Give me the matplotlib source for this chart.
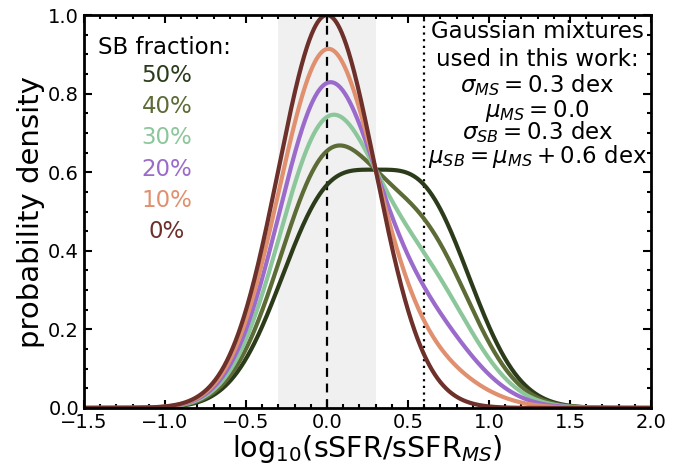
import numpy as np
import matplotlib
matplotlib.use("Agg")
import matplotlib.pyplot as plt
from matplotlib.ticker import MultipleLocator

# --- data (parameters of the Gaussian mixtures, as stated in the chart) ---
sb_fractions = [0.5, 0.4, 0.3, 0.2, 0.1, 0.0]
sb_labels = ["50%", "40%", "30%", "20%", "10%", "0%"]
colors = ["#2c3c1b", "#5d6b36", "#8cc69b", "#9b6bcb", "#e0906f", "#6d302a"]
sigma_ms = 0.3
mu_ms = 0.0
sigma_sb = 0.3
mu_sb = mu_ms + 0.6
x_range = (-1.5, 2.0)
info_lines = [
    "Gaussian mixtures",
    "used in this work:",
    r"$\sigma_{MS} = 0.3$ dex",
    r"$\mu_{MS} = 0.0$",
    r"$\sigma_{SB} = 0.3$ dex",
    r"$\mu_{SB} = \mu_{MS} + 0.6$ dex",
]

x = np.linspace(x_range[0], x_range[1], 1000)

def gauss(xx, mu, s):
    return np.exp(-0.5 * ((xx - mu) / s) ** 2) / (s * np.sqrt(2 * np.pi))

norm = gauss(mu_ms, mu_ms, sigma_ms)

fig = plt.figure(figsize=(6.94, 4.70), dpi=100)
ax = fig.add_axes([0.121, 0.132, 0.817, 0.836])

ax.axvspan(-0.3, 0.3, color="#f0f0f0", zorder=0, lw=0)
ax.axvline(0.0, color="black", ls=(0, (4, 3)), lw=1.6, zorder=1)
ax.axvline(0.6, color="black", ls=(0, (1, 2)), lw=1.6, zorder=1)

for f, c in zip(sb_fractions, colors):
    y = ((1 - f) * gauss(x, mu_ms, sigma_ms) + f * gauss(x, mu_sb, sigma_sb)) / norm
    ax.plot(x, y, color=c, lw=3, zorder=2)

ax.set_xlim(*x_range)
ax.set_ylim(0, 1.0)
ax.xaxis.set_major_locator(MultipleLocator(0.5))
ax.xaxis.set_minor_locator(MultipleLocator(0.1))
ax.yaxis.set_major_locator(MultipleLocator(0.2))
ax.yaxis.set_minor_locator(MultipleLocator(0.05))
ax.tick_params(which="both", direction="in", top=True, right=True, labelsize=14, width=1.5)
ax.tick_params(which="major", length=6)
ax.tick_params(which="minor", length=3)
for sp in ax.spines.values():
    sp.set_linewidth(2)

ax.set_xlabel(r"log$_{10}$(sSFR/sSFR$_{MS}$)", fontsize=20.5, labelpad=1)
ax.set_ylabel("probability density", fontsize=21, labelpad=2)

ax.text(-1.414, 0.901, "SB fraction:", fontsize=16.5, va="baseline", ha="left")
ys = [0.830, 0.751, 0.672, 0.590, 0.511, 0.433]
for lab, c, yy in zip(sb_labels, colors, ys):
    ax.text(-0.988, yy, lab, fontsize=16.5, color=c, va="baseline", ha="center")

info_y = [0.941, 0.870, 0.804, 0.740, 0.684, 0.623]
for line, yy in zip(info_lines, info_y):
    ax.text(1.30, yy, line, fontsize=16.5, ha="center", va="baseline")

fig.savefig("out.png", dpi=100)
